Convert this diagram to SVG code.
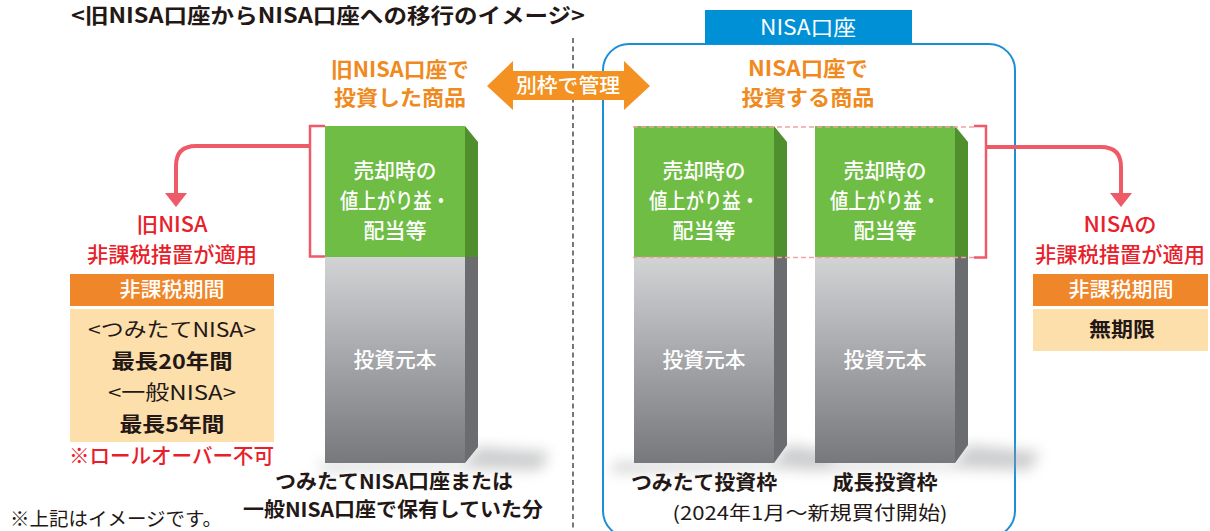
<svg xmlns="http://www.w3.org/2000/svg" width="1210" height="531" viewBox="0 0 1210 531">
<style>
text{font-family:'Noto Sans CJK JP','Noto Sans',sans-serif;}
.t{fill:#231815;}
.b{font-weight:700;}
.m{font-weight:500;}
.w{fill:#ffffff;}
.or{fill:#f08a1e;font-weight:700;font-size:21px;}
.rd{fill:#e8202a;font-size:21px;font-weight:500;}
.gf{fill:#6fbd44;}
.gs{fill:#4f8f2e;}
.ys{fill:#6b6c70;}
.con{fill:none;stroke:#ef5a69;stroke-width:4;}
.brk{fill:none;stroke:#ef5a69;stroke-width:2.5;}
.pd{fill:none;stroke:#f4a0a8;stroke-width:1.3;stroke-dasharray:5 3;}
.ah{fill:#ef5a69;}
</style>
<defs>
<linearGradient id="gg" x1="0" y1="0" x2="0" y2="1">
<stop offset="0" stop-color="#d2d3d5"/>
<stop offset="1" stop-color="#77787c"/>
</linearGradient>
<filter id="blur" x="-50%" y="-50%" width="200%" height="200%"><feGaussianBlur stdDeviation="7"/></filter>
</defs>
<rect width="1210" height="531" fill="#ffffff"/>

<g id="title">
<text class="t b" x="71" y="23" font-size="21" textLength="514" lengthAdjust="spacingAndGlyphs">&lt;旧NISA口座からNISA口座への移行のイメージ&gt;</text>
</g>

<g id="divider">
<line x1="573" y1="38" x2="573" y2="531" stroke="#55565a" stroke-width="1.6" stroke-dasharray="5 3.5"/>
</g>

<g id="nisa-account">
<rect x="603" y="44" width="412" height="493" rx="26" fill="none" stroke="#1a8fd6" stroke-width="2"/>
<rect x="705" y="10" width="207" height="34" fill="#0090d6"/>
<text class="w" x="808" y="34.5" font-size="21" text-anchor="middle" textLength="96" lengthAdjust="spacingAndGlyphs">NISA口座</text>
</g>

<g id="label-old">
<text class="or" x="400" y="77" text-anchor="middle" textLength="138" lengthAdjust="spacingAndGlyphs">旧NISA口座で</text>
<text class="or" x="400" y="105" text-anchor="middle" textLength="132" lengthAdjust="spacingAndGlyphs">投資した商品</text>
</g>

<g id="label-new">
<text class="or" x="808" y="76" text-anchor="middle" textLength="120" lengthAdjust="spacingAndGlyphs">NISA口座で</text>
<text class="or" x="808" y="105" text-anchor="middle" textLength="133" lengthAdjust="spacingAndGlyphs">投資する商品</text>
</g>

<g id="separate-arrow">
<polygon points="487,86 513,61 513,71 624,71 624,61 650,86 624,110 624,100 513,100 513,110" fill="#f39222"/>
<text class="w m" x="568" y="93" font-size="20" text-anchor="middle" textLength="104" lengthAdjust="spacingAndGlyphs">別枠で管理</text>
</g>

<g id="shadows" filter="url(#blur)" fill="#9a9b9e" opacity="0.5">
<polygon points="478,447 550,452 540,470 465,468 320,470 320,463 465,463"/>
<polygon points="787,445 835,452 825,470 774,468 610,472 615,463 774,463"/>
<polygon points="968,445 1040,452 1030,470 955,468 800,470 815,463 955,463"/>
</g>

<g id="bar-old">
<rect class="gf" x="325" y="126" width="140" height="131"/>
<polygon class="gs" points="465,126 478,142 478,257 465,257"/>
<rect x="325" y="257" width="140" height="206" fill="url(#gg)"/>
<polygon class="ys" points="465,257 478,257 478,447 465,463"/>
<text class="w m" x="395" y="178" font-size="21" text-anchor="middle" textLength="83" lengthAdjust="spacingAndGlyphs">売却時の</text>
<text class="w m" x="395" y="208" font-size="21" text-anchor="middle" textLength="110" lengthAdjust="spacingAndGlyphs">値上がり益・</text>
<text class="w m" x="395" y="238" font-size="21" text-anchor="middle" textLength="63" lengthAdjust="spacingAndGlyphs">配当等</text>
<text class="w m" x="395" y="367" font-size="21" text-anchor="middle" textLength="83" lengthAdjust="spacingAndGlyphs">投資元本</text>
<text class="t b" x="394" y="489" font-size="20" text-anchor="middle" textLength="238" lengthAdjust="spacingAndGlyphs">つみたてNISA口座または</text>
<text class="t b" x="393" y="517" font-size="20" text-anchor="middle" textLength="300" lengthAdjust="spacingAndGlyphs">一般NISA口座で保有していた分</text>
</g>

<g id="bar-tsumitate">
<rect class="gf" x="634" y="126" width="140" height="131"/>
<polygon class="gs" points="774,126 787,142 787,257 774,257"/>
<rect x="634" y="257" width="140" height="206" fill="url(#gg)"/>
<polygon class="ys" points="774,257 787,257 787,445 774,463"/>
<text class="w m" x="704" y="178" font-size="21" text-anchor="middle" textLength="83" lengthAdjust="spacingAndGlyphs">売却時の</text>
<text class="w m" x="704" y="208" font-size="21" text-anchor="middle" textLength="110" lengthAdjust="spacingAndGlyphs">値上がり益・</text>
<text class="w m" x="704" y="238" font-size="21" text-anchor="middle" textLength="63" lengthAdjust="spacingAndGlyphs">配当等</text>
<text class="w m" x="704" y="367" font-size="21" text-anchor="middle" textLength="83" lengthAdjust="spacingAndGlyphs">投資元本</text>
<text class="t b" x="704" y="490" font-size="20" text-anchor="middle" textLength="146" lengthAdjust="spacingAndGlyphs">つみたて投資枠</text>
</g>

<g id="bar-growth">
<rect class="gf" x="815" y="126" width="140" height="131"/>
<polygon class="gs" points="955,126 968,142 968,257 955,257"/>
<rect x="815" y="257" width="140" height="206" fill="url(#gg)"/>
<polygon class="ys" points="955,257 968,257 968,445 955,463"/>
<text class="w m" x="885" y="178" font-size="21" text-anchor="middle" textLength="83" lengthAdjust="spacingAndGlyphs">売却時の</text>
<text class="w m" x="885" y="208" font-size="21" text-anchor="middle" textLength="110" lengthAdjust="spacingAndGlyphs">値上がり益・</text>
<text class="w m" x="885" y="238" font-size="21" text-anchor="middle" textLength="63" lengthAdjust="spacingAndGlyphs">配当等</text>
<text class="w m" x="885" y="367" font-size="21" text-anchor="middle" textLength="83" lengthAdjust="spacingAndGlyphs">投資元本</text>
<text class="t b" x="885" y="490" font-size="20" text-anchor="middle" textLength="105" lengthAdjust="spacingAndGlyphs">成長投資枠</text>
</g>

<g id="connectors">
<path class="brk" d="M325,126 H310 V256.5 H325"/>
<path class="con" d="M310,146 H196 Q176,146 176,166 V195"/>
<polygon class="ah" points="165,193 187,193 176,207"/>
<line class="pd" x1="633" y1="127" x2="974" y2="127"/>
<line class="pd" x1="633" y1="257.5" x2="974" y2="257.5"/>
<path class="brk" d="M974,126 H986 V257.5 H974"/>
<path class="con" d="M986,147 H1101 Q1121,147 1121,167 V195"/>
<polygon class="ah" points="1110,193 1132,193 1121,207"/>
</g>

<g id="start-note">
<text class="t" x="810" y="520" font-size="19" text-anchor="middle" textLength="275" lengthAdjust="spacingAndGlyphs">(2024年1月～新規買付開始)</text>
</g>

<g id="old-nisa-tax">
<text class="rd" x="172" y="232" text-anchor="middle" textLength="71" lengthAdjust="spacingAndGlyphs">旧NISA</text>
<text class="rd" x="172" y="262" text-anchor="middle" textLength="170" lengthAdjust="spacingAndGlyphs">非課税措置が適用</text>
<rect x="70" y="274" width="204" height="32" fill="#f0862a"/>
<text class="w m" x="172" y="297" font-size="20" text-anchor="middle" textLength="105" lengthAdjust="spacingAndGlyphs">非課税期間</text>
<rect x="70" y="309" width="204" height="133" fill="#fddfac"/>
<text class="t" x="172" y="337" font-size="20" text-anchor="middle" textLength="168" lengthAdjust="spacingAndGlyphs">&lt;つみたてNISA&gt;</text>
<text class="t b" x="172" y="369" font-size="20" text-anchor="middle" textLength="121" lengthAdjust="spacingAndGlyphs">最長20年間</text>
<text class="t" x="172" y="400" font-size="20" text-anchor="middle" textLength="128" lengthAdjust="spacingAndGlyphs">&lt;一般NISA&gt;</text>
<text class="t b" x="172" y="432" font-size="20" text-anchor="middle" textLength="105" lengthAdjust="spacingAndGlyphs">最長5年間</text>
<text class="rd" x="171.5" y="463" font-size="20" font-weight="400" text-anchor="middle" textLength="205" lengthAdjust="spacingAndGlyphs">※ロールオーバー不可</text>
</g>

<g id="nisa-tax">
<text class="rd" x="1120" y="232" text-anchor="middle" textLength="73" lengthAdjust="spacingAndGlyphs">NISAの</text>
<text class="rd" x="1120" y="262" text-anchor="middle" textLength="170" lengthAdjust="spacingAndGlyphs">非課税措置が適用</text>
<rect x="1033" y="274" width="175" height="32" fill="#f0862a"/>
<text class="w m" x="1121" y="297" font-size="20" text-anchor="middle" textLength="105" lengthAdjust="spacingAndGlyphs">非課税期間</text>
<rect x="1033" y="309" width="175" height="42" fill="#fddfac"/>
<text class="t b" x="1122" y="337" font-size="20" text-anchor="middle" textLength="66" lengthAdjust="spacingAndGlyphs">無期限</text>
</g>

<g id="footnote">
<text class="t" x="10" y="526" font-size="19" textLength="212" lengthAdjust="spacingAndGlyphs">※上記はイメージです。</text>
</g>
</svg>
